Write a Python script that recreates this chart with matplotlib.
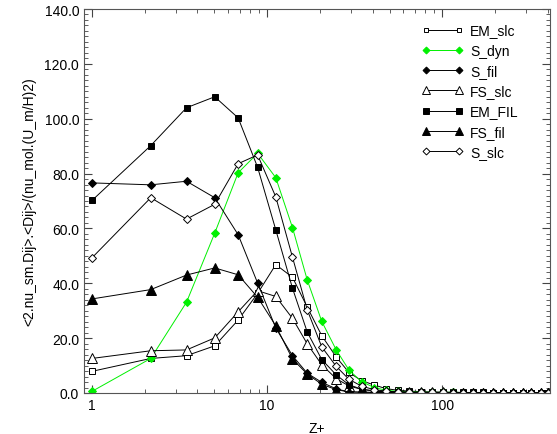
import matplotlib
matplotlib.use("Agg")
import matplotlib.pyplot as plt
from matplotlib.ticker import FixedLocator, MultipleLocator, FormatStrFormatter, LogLocator, NullFormatter

plt.rcParams['font.family'] = ['Liberation Sans', 'DejaVu Sans']

z_plus = [1.0, 2.165, 3.464, 5.02, 6.83, 8.82, 11.2, 13.95, 16.94, 20.5, 24.8, 29.3,
          34.6, 40.9, 47.7, 55.5, 64.7, 75.5, 87.4, 101.1, 115.2, 131.6, 150.4, 171.6,
          195.6, 222.6, 253.6, 288.1, 322.7, 363.7, 403.4]

em_slc = [7.9, 12.6, 13.6, 17.2, 26.6, 36.3, 46.8, 42.2, 31.3, 20.9, 13.1, 7.5,
          4.5, 2.9, 1.6, 1.0, 0.7, 0.5, 0.4, 0.3, 0.3, 0.2, 0.2, 0.2, 0.1, 0.1, 0.1, 0.1, 0.1, 0.1, 0.1]
s_dyn = [0.6, 12.6, 33.1, 58.3, 80.3, 87.4, 78.5, 60.3, 41.2, 26.1, 15.7, 8.4,
         4.1, 2.0, 1.0, 0.6, 0.4, 0.3, 0.2, 0.2, 0.2, 0.1, 0.1, 0.1, 0.1, 0.1, 0.1, 0.1, 0.1, 0.1, 0.1]
s_fil = [76.6, 75.9, 77.2, 71.2, 57.7, 40.1, 23.7, 13.6, 7.2, 3.9, 1.5, 0.4,
         0.3, 0.2, 0.2, 0.1, 0.1, 0.1, 0.1, 0.1, 0.1, 0.1, 0.1, 0.1, 0.1, 0.1, 0.1, 0.1, 0.1, 0.1, 0.1]
fs_slc = [12.6, 15.4, 15.7, 20.1, 29.6, 37.3, 35.2, 27.2, 17.9, 10.3, 5.2, 2.6,
          1.3, 0.8, 0.5, 0.4, 0.3, 0.2, 0.2, 0.2, 0.1, 0.1, 0.1, 0.1, 0.1, 0.1, 0.1, 0.1, 0.1, 0.1, 0.1]
em_fil = [70.2, 90.2, 104.0, 108.0, 100.3, 82.3, 59.5, 38.2, 22.2, 12.2, 6.6, 3.0,
          1.4, 0.7, 0.4, 0.3, 0.2, 0.2, 0.1, 0.1, 0.1, 0.1, 0.1, 0.1, 0.1, 0.1, 0.1, 0.1, 0.1, 0.1, 0.1]
fs_fil = [34.3, 37.7, 43.0, 45.6, 43.1, 34.9, 24.5, 12.4, 6.9, 3.2, 1.2, 0.4,
          0.3, 0.2, 0.2, 0.1, 0.1, 0.1, 0.1, 0.1, 0.1, 0.1, 0.1, 0.1, 0.1, 0.1, 0.1, 0.1, 0.1, 0.1, 0.1]
s_slc = [49.3, 71.2, 63.4, 68.8, 83.6, 86.8, 71.5, 49.5, 30.3, 16.8, 9.7, 5.0,
         2.5, 1.2, 0.7, 0.4, 0.3, 0.2, 0.2, 0.2, 0.1, 0.1, 0.1, 0.1, 0.1, 0.1, 0.1, 0.1, 0.1, 0.1, 0.1]

green = "#00f000"
series = [
    ("EM_slc", em_slc, dict(color="black", marker="s", mfc="white", mec="black", ms=4.2)),
    ("S_dyn", s_dyn, dict(color=green, marker="D", mfc=green, mec=green, ms=4.4)),
    ("S_fil", s_fil, dict(color="black", marker="D", mfc="black", mec="black", ms=4.4)),
    ("FS_slc", fs_slc, dict(color="black", marker="^", mfc="white", mec="black", ms=6.5)),
    ("EM_FIL", em_fil, dict(color="black", marker="s", mfc="black", mec="black", ms=4.8)),
    ("FS_fil", fs_fil, dict(color="black", marker="^", mfc="black", mec="black", ms=6.5)),
    ("S_slc", s_slc, dict(color="black", marker="D", mfc="white", mec="black", ms=4.4)),
]

fig = plt.figure(figsize=(5.57, 4.35), dpi=100)
ax = fig.add_axes([84/557, 1 - 394/435, (550-84)/557, (394-10)/435])

for name, vals, st in series:
    ax.plot(z_plus, vals, label=name, lw=0.7, mew=0.7, **st)

ax.set_xscale("log")
ax.set_xlim(0.9, 412)
ax.set_ylim(0, 140)
ax.yaxis.set_major_locator(MultipleLocator(20))
ax.yaxis.set_minor_locator(MultipleLocator(2))
ax.yaxis.set_major_formatter(FormatStrFormatter("%.1f"))
ax.xaxis.set_major_locator(FixedLocator([1, 10, 100]))
ax.xaxis.set_major_formatter(FormatStrFormatter("%g"))
ax.xaxis.set_minor_locator(LogLocator(base=10, subs=range(2, 10)))
ax.xaxis.set_minor_formatter(NullFormatter())
ax.tick_params(which="both", direction="in", top=True, right=True, labelsize=10, color="#444444")
ax.tick_params(which="major", length=6)
ax.tick_params(which="minor", length=3)
for sp in ax.spines.values():
    sp.set_color("#555555")
    sp.set_linewidth(0.8)

ax.set_xlabel("Z+", fontsize=10, labelpad=6.5)
ax.set_ylabel("<2.nu_sm.Dij>.<Dij>/(nu_mol.(U_m/H)2)", fontsize=10, labelpad=6)

leg = ax.legend(loc="upper right", bbox_to_anchor=(0.96, 0.995), frameon=False, fontsize=10,
                handlelength=3.0, numpoints=2, markerscale=0.8, labelspacing=0.45,
                handletextpad=0.5)

fig.savefig("out.png", dpi=100)
